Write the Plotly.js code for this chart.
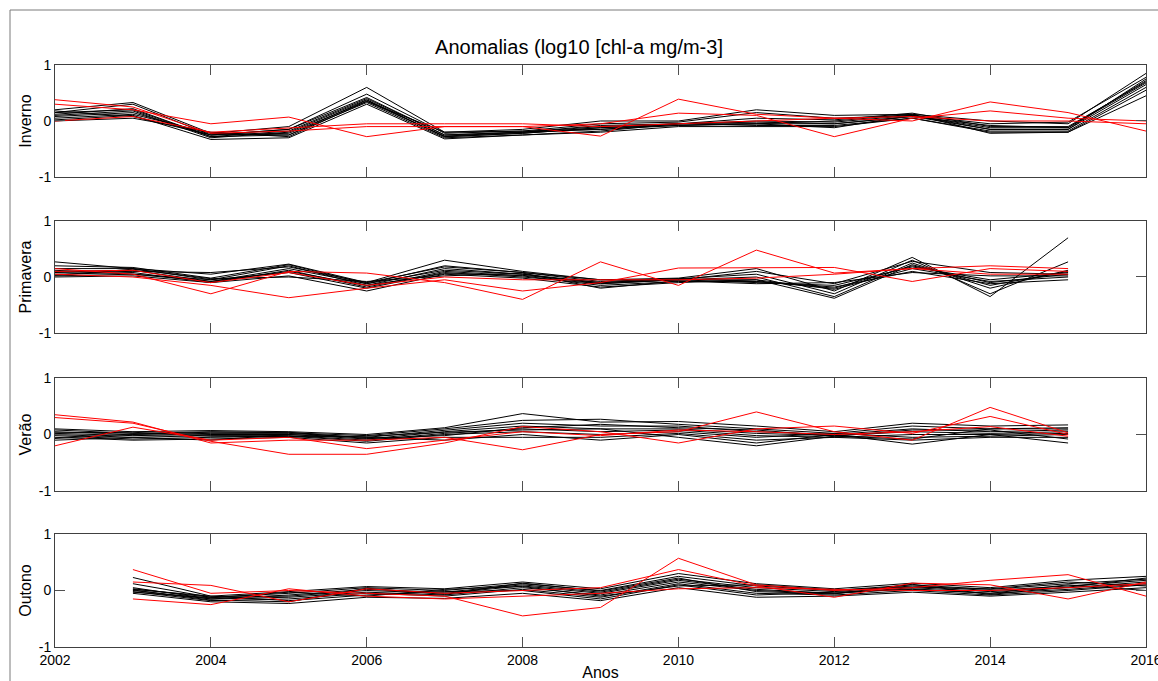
<!DOCTYPE html>
<html>
<head>
<meta charset="utf-8">
<script src="https://cdn.plot.ly/plotly-3.0.1.min.js"></script>
<style>html,body{margin:0;padding:0;background:#fff;}#chart{width:1158px;height:681px;}</style>
</head>
<body>
<div id="chart"></div>
<script>
// ---------- DATA ----------
const yearsInverno   = [2002,2003,2004,2005,2006,2007,2008,2009,2010,2011,2012,2013,2014,2015,2016];
const yearsPrimavera = [2002,2003,2004,2005,2006,2007,2008,2009,2010,2011,2012,2013,2014,2015];
const yearsVerao     = [2002,2003,2004,2005,2006,2007,2008,2009,2010,2011,2012,2013,2014,2015];
const yearsOutono    = [2003,2004,2005,2006,2007,2008,2009,2010,2011,2012,2013,2014,2015,2016];

const invernoBlack = [
  [0.20, 0.33, -0.22, -0.10, 0.60, -0.20, -0.15, 0.00, 0.00, 0.20, 0.10, 0.12, 0.00, -0.05, 0.85],
  [0.15, 0.30, -0.25, -0.15, 0.48, -0.22, -0.18, -0.05, -0.02, 0.15, 0.05, 0.10, -0.05, -0.02, 0.78],
  [0.12, 0.22, -0.28, -0.18, 0.40, -0.25, -0.20, -0.08, -0.05, 0.05, 0.02, 0.14, -0.10, -0.10, 0.70],
  [0.10, 0.18, -0.30, -0.20, 0.38, -0.28, -0.22, -0.12, -0.05, 0.00, -0.02, 0.10, -0.12, -0.12, 0.72],
  [0.08, 0.15, -0.25, -0.22, 0.35, -0.27, -0.20, -0.15, -0.08, -0.05, -0.05, 0.08, -0.15, -0.15, 0.65],
  [0.05, 0.12, -0.22, -0.25, 0.33, -0.30, -0.25, -0.18, -0.05, -0.08, -0.08, 0.05, -0.18, -0.18, 0.60],
  [0.02, 0.10, -0.33, -0.30, 0.30, -0.32, -0.25, -0.20, -0.10, -0.10, -0.10, 0.05, -0.20, -0.20, 0.55],
  [0.00, 0.05, -0.20, -0.28, 0.35, -0.20, -0.18, -0.15, -0.05, -0.05, 0.00, 0.12, -0.22, -0.20, 0.45],
  [0.18, 0.08, -0.25, -0.15, 0.42, -0.25, -0.20, -0.10, -0.05, -0.02, -0.05, 0.08, -0.08, -0.12, 0.68],
  [0.15, 0.20, -0.28, -0.25, 0.37, -0.28, -0.22, -0.12, -0.08, -0.05, -0.12, 0.10, -0.15, -0.15, 0.75]
];
const invernoRed = [
  [0.38, 0.25, -0.22, -0.18, -0.10, -0.10, -0.10, -0.27, 0.39, 0.12, 0.05, 0.00, 0.34, 0.15, -0.18],
  [0.30, 0.20, -0.05, 0.07, -0.28, -0.10, -0.10, -0.05, 0.14, 0.10, -0.28, 0.05, 0.18, 0.05, 0.00],
  [0.00, 0.08, -0.20, -0.12, -0.05, -0.05, -0.05, -0.10, -0.05, 0.00, 0.05, 0.08, 0.00, 0.00, -0.05]
];

const primaveraBlack = [
  [0.27, 0.15, 0.05, 0.23, -0.10, 0.30, 0.10, -0.05, -0.02, 0.15, -0.25, 0.35, -0.35, 0.70],
  [0.20, 0.17, -0.02, 0.22, -0.12, 0.20, 0.08, -0.08, -0.03, 0.05, -0.30, 0.30, -0.30, 0.27],
  [0.15, 0.15, -0.05, 0.20, -0.15, 0.15, 0.05, -0.10, -0.05, 0.00, -0.35, 0.25, -0.20, 0.12],
  [0.10, 0.12, -0.08, 0.15, -0.12, 0.12, 0.05, -0.12, -0.05, -0.05, -0.38, 0.22, -0.15, 0.10],
  [0.05, 0.08, -0.10, 0.12, -0.18, 0.10, 0.02, -0.15, -0.08, -0.08, -0.20, 0.20, -0.10, 0.05],
  [0.02, 0.05, -0.05, 0.08, -0.20, 0.08, 0.00, -0.12, -0.05, -0.10, -0.15, 0.18, -0.05, 0.08],
  [0.00, 0.02, -0.10, 0.02, -0.25, 0.05, -0.02, -0.18, -0.10, -0.05, -0.22, 0.15, -0.08, 0.00],
  [0.08, 0.10, 0.08, 0.18, -0.10, 0.18, 0.08, -0.05, -0.05, 0.10, -0.12, 0.28, 0.08, 0.05],
  [0.12, 0.05, -0.08, 0.10, -0.15, 0.06, 0.03, -0.10, -0.03, -0.08, -0.18, 0.10, -0.12, -0.05],
  [0.03, 0.14, -0.03, 0.00, -0.08, 0.02, 0.07, -0.20, -0.07, -0.12, -0.10, 0.08, 0.02, 0.02]
];
const primaveraRed = [
  [0.15, 0.05, -0.30, 0.10, 0.07, -0.10, -0.40, 0.27, -0.15, 0.48, 0.07, 0.15, 0.20, 0.15],
  [0.05, 0.00, -0.15, -0.37, -0.20, -0.05, -0.25, -0.10, 0.16, 0.17, 0.17, -0.08, 0.15, 0.10],
  [0.10, 0.12, -0.10, 0.08, -0.15, 0.00, -0.05, -0.05, -0.05, -0.02, 0.05, 0.15, 0.05, 0.05]
];

const veraoBlack = [
  [0.10, 0.05, 0.07, 0.05, 0.00, 0.12, 0.37, 0.22, 0.23, 0.15, 0.05, 0.20, 0.15, 0.17],
  [0.08, 0.02, 0.05, 0.03, -0.02, 0.10, 0.25, 0.27, 0.18, 0.10, 0.02, 0.15, 0.10, 0.12],
  [0.05, 0.00, 0.02, 0.02, -0.05, 0.08, 0.20, 0.15, 0.15, 0.05, 0.00, 0.10, 0.05, 0.08],
  [0.02, -0.02, 0.00, 0.00, -0.08, 0.05, 0.15, 0.10, 0.10, 0.02, -0.02, 0.05, 0.02, 0.05],
  [0.00, -0.05, -0.02, -0.02, -0.10, 0.02, 0.10, 0.05, 0.08, -0.02, -0.05, 0.00, 0.00, 0.02],
  [-0.02, -0.08, -0.05, -0.03, -0.12, 0.00, 0.05, 0.00, 0.05, -0.05, 0.02, -0.05, -0.03, 0.00],
  [-0.05, -0.10, -0.08, -0.05, -0.15, -0.05, -0.05, -0.05, 0.02, -0.10, -0.05, -0.10, -0.05, -0.05],
  [-0.10, -0.05, -0.10, 0.00, -0.05, -0.10, 0.00, -0.10, 0.00, -0.15, 0.00, -0.17, 0.00, -0.15],
  [0.03, 0.04, -0.03, -0.04, -0.03, 0.04, 0.08, 0.10, -0.05, -0.20, -0.03, 0.08, 0.08, -0.08],
  [-0.07, 0.01, 0.04, 0.04, -0.07, -0.02, 0.12, 0.18, 0.12, 0.08, -0.03, -0.08, 0.10, 0.10]
];
const veraoRed = [
  [0.35, 0.22, -0.15, -0.10, -0.10, -0.05, -0.27, 0.00, 0.05, 0.40, 0.05, -0.10, 0.48, 0.03],
  [0.30, 0.20, -0.12, -0.35, -0.35, -0.15, 0.14, 0.05, -0.15, 0.10, 0.15, 0.02, 0.32, 0.00],
  [-0.20, 0.13, -0.10, -0.05, -0.25, -0.10, 0.05, -0.02, 0.08, 0.05, 0.00, 0.05, 0.14, -0.03]
];

const outonoBlack = [
  [0.23, -0.10, -0.02, 0.07, 0.03, 0.15, 0.03, 0.30, 0.12, 0.03, 0.13, 0.05, 0.18, 0.25],
  [0.12, -0.12, -0.05, 0.05, 0.00, 0.12, 0.00, 0.25, 0.08, 0.00, 0.10, 0.02, 0.12, 0.20],
  [0.05, -0.15, -0.08, 0.02, -0.03, 0.10, -0.03, 0.20, 0.05, -0.02, 0.08, 0.00, 0.08, 0.18],
  [0.03, -0.12, -0.10, 0.00, -0.05, 0.08, -0.05, 0.18, 0.02, -0.05, 0.05, -0.02, 0.05, 0.15],
  [0.00, -0.15, -0.12, -0.03, -0.08, 0.05, -0.08, 0.15, 0.00, -0.05, 0.03, -0.05, 0.02, 0.12],
  [-0.02, -0.18, -0.15, -0.05, -0.10, 0.02, -0.12, 0.12, -0.05, -0.08, 0.00, -0.08, 0.00, 0.10],
  [-0.05, -0.20, -0.23, -0.12, -0.14, -0.05, -0.18, 0.05, -0.12, -0.10, -0.03, -0.10, -0.03, 0.05],
  [0.02, -0.10, -0.18, -0.08, -0.02, 0.00, -0.15, 0.10, -0.08, -0.03, 0.02, -0.05, 0.10, 0.00],
  [-0.03, -0.13, -0.03, -0.10, 0.02, 0.07, -0.10, 0.08, 0.10, 0.01, 0.06, 0.03, 0.15, 0.08],
  [0.01, -0.17, -0.20, 0.04, -0.07, 0.13, -0.01, 0.22, -0.02, -0.06, 0.11, -0.07, 0.06, 0.22]
];
const outonoRed = [
  [0.37, -0.05, 0.00, -0.05, -0.10, -0.45, -0.30, 0.57, 0.10, 0.00, 0.05, 0.18, 0.28, -0.10],
  [0.15, 0.09, -0.20, 0.03, -0.05, 0.00, 0.05, 0.37, 0.08, -0.12, 0.13, 0.10, -0.15, 0.15],
  [-0.15, -0.25, 0.03, -0.10, -0.15, -0.10, -0.05, 0.03, 0.05, 0.02, 0.00, 0.00, 0.05, 0.12]
];

const panelNames = ['Inverno', 'Primavera', 'Verão', 'Outono'];
const xTicks = [2002, 2004, 2006, 2008, 2010, 2012, 2014, 2016];
const yTicks = [-1, 0, 1];
const titleText = 'Anomalias (log10 [chl-a mg/m-3]';
const xTitleText = 'Anos';

// ---------- BUILD ----------
const panels = [
  {x: yearsInverno, black: invernoBlack, red: invernoRed},
  {x: yearsPrimavera, black: primaveraBlack, red: primaveraRed},
  {x: yearsVerao, black: veraoBlack, red: veraoRed},
  {x: yearsOutono, black: outonoBlack, red: outonoRed}
];
const FONT = 'Liberation Sans, Arial, Helvetica, sans-serif';
const domains = [[0.8076, 1.0], [0.5395, 0.7320], [0.2680, 0.4622], [0.0, 0.1942]];

const traces = [];
panels.forEach((p, i) => {
  const xa = i === 0 ? 'x' : 'x' + (i + 1);
  const ya = i === 0 ? 'y' : 'y' + (i + 1);
  p.black.forEach(s => traces.push({x: p.x, y: s, xaxis: xa, yaxis: ya, type: 'scatter', mode: 'lines',
    line: {color: '#000000', width: 1}, showlegend: false, hoverinfo: 'skip'}));
  p.red.forEach(s => traces.push({x: p.x, y: s, xaxis: xa, yaxis: ya, type: 'scatter', mode: 'lines',
    line: {color: '#ff0000', width: 1}, showlegend: false, hoverinfo: 'skip'}));
});

const layout = {
  width: 1158, height: 681,
  margin: {l: 55, r: 12, t: 65, b: 34},
  paper_bgcolor: '#ffffff', plot_bgcolor: '#ffffff',
  font: {family: FONT, size: 14, color: '#000'},
  showlegend: false,
  hovermode: false,
  title: {text: titleText, font: {family: FONT, size: 20, color: '#000'},
          xref: 'container', x: 0.5, xanchor: 'center', yref: 'container', y: 1 - 47/681, yanchor: 'middle'},
  shapes: [
    {type: 'line', xref: 'paper', yref: 'paper', x0: -45/1091, x1: -45/1091, y0: -34/582, y1: 637/582,
     line: {color: '#7a7a7a', width: 1}},
    {type: 'line', xref: 'paper', yref: 'paper', x0: -45/1091, x1: 1103/1091, y0: 637/582, y1: 637/582,
     line: {color: '#7a7a7a', width: 1}}
  ]
};

panels.forEach((p, i) => {
  const sfx = i === 0 ? '' : String(i + 1);
  const last = i === 3;
  layout['xaxis' + sfx] = {
    domain: [0, 1], anchor: 'y' + sfx, range: [2002, 2016],
    tickmode: 'array', tickvals: xTicks, ticktext: xTicks.map(String),
    ticks: 'inside', ticklen: 10, tickcolor: '#505050', tickwidth: 1,
    showline: true, linecolor: '#404040', linewidth: 1, mirror: 'allticks',
    showgrid: false, zeroline: false, showticklabels: last, ticklabeloverflow: 'allow',
    tickfont: {family: FONT, size: 14, color: '#000'},
    title: last ? {text: xTitleText, font: {family: FONT, size: 16, color: '#000'}, standoff: 0} : {text: ''},
    automargin: false, fixedrange: true
  };
  layout['yaxis' + sfx] = {
    domain: domains[i], anchor: 'x' + sfx, range: [-1, 1],
    tickmode: 'array', tickvals: yTicks, ticktext: yTicks.map(String),
    ticks: 'inside', ticklen: 10, tickcolor: '#505050', tickwidth: 1,
    showline: true, linecolor: '#404040', linewidth: 1, mirror: 'allticks',
    showgrid: false, zeroline: false,
    tickfont: {family: FONT, size: 14, color: '#000'},
    title: {text: panelNames[i], font: {family: FONT, size: 16, color: '#000'}, standoff: 3},
    automargin: false, fixedrange: true
  };
});

Plotly.newPlot('chart', traces, layout, {displayModeBar: false, staticPlot: true});
</script>
</body>
</html>
